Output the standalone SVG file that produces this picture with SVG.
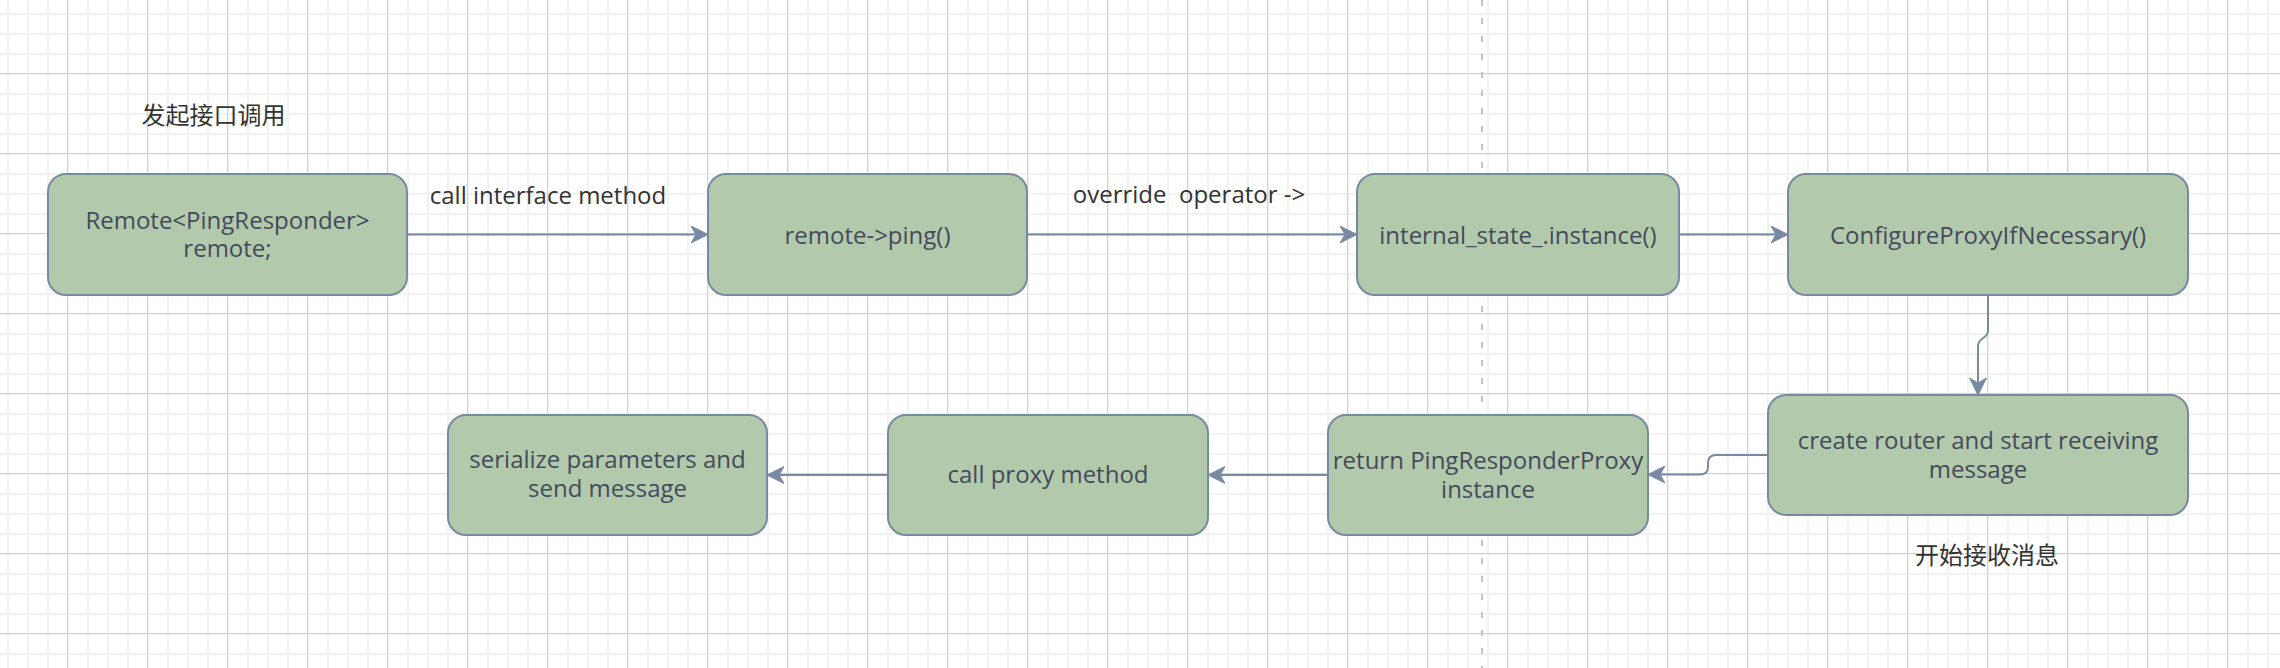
<svg xmlns="http://www.w3.org/2000/svg" width="2280" height="668" viewBox="0 0 2280 668">
  <defs>
    <style>
      .node rect { fill: #B2C9AB; stroke: #788AA3; stroke-width: 2; }
      .nt { font-family: "Open Sans", "Liberation Sans", sans-serif; font-size: 24px; fill: #46495D; text-anchor: middle; }
      .lbl { font-family: "Open Sans", "Liberation Sans", sans-serif; font-size: 24px; fill: #333333; text-anchor: middle; }
      .cjk { font-family: "Noto Sans CJK SC", sans-serif; font-size: 24px; fill: #333333; text-anchor: middle; }
      .edge { fill: none; stroke: #788AA3; stroke-width: 2; marker-end: url(#arrow); }
    </style>
    <pattern id="minor" width="20" height="20" patternUnits="userSpaceOnUse" x="7" y="13">
      <path d="M1 0V20M0 1H20" stroke="#f2f2f2" stroke-width="2" fill="none"/>
    </pattern>
    <pattern id="major" width="80" height="80" patternUnits="userSpaceOnUse" x="67" y="73">
      <path d="M0.5 0V80M0 0.5H80" stroke="#d2d2d2" stroke-width="1" fill="none"/>
    </pattern>
    <marker id="arrow" markerUnits="userSpaceOnUse" markerWidth="18" markerHeight="18" viewBox="0 0 18 18" refX="5" refY="9" orient="auto">
      <path d="M0,0.5 L17,9 L0,17.5 L5,9 Z" fill="#788AA3" stroke="#788AA3" stroke-width="1" stroke-linejoin="miter"/>
    </marker>
  </defs>

  <rect width="2280" height="668" fill="#ffffff"/>
  <rect width="2280" height="668" fill="url(#minor)"/>
  <rect width="2280" height="668" fill="url(#major)"/>

  <line x1="1482" y1="0" x2="1482" y2="668" stroke="#c4c4c4" stroke-width="2" stroke-dasharray="6 12"/>

  <g id="labels">
    <text class="cjk" x="213.5" y="124">发起接口调用</text>
    <text class="lbl" x="548" y="204">call interface method</text>
    <text class="lbl" x="1189" y="203" xml:space="preserve">override  operator -&gt;</text>
    <text class="cjk" x="1987" y="564">开始接收消息</text>
  </g>

  <g id="connectors">
    <path class="edge" d="M407,234.5 H696"/>
    <path class="edge" d="M1027,234.5 H1345"/>
    <path class="edge" d="M1679,234.5 H1776"/>
    <path class="edge" d="M1988,295 V331 C1988,339 1978,337 1978,346 V383"/>
    <path class="edge" d="M1768,455 H1716 Q1708,455 1708,463 V467 Q1708,474.5 1700,474.5 H1660"/>
    <path class="edge" d="M1328,475 H1220"/>
    <path class="edge" d="M888,475 H779"/>
  </g>

  <g id="node-remote" class="node">
    <rect x="48" y="174" width="359" height="121" rx="18" ry="18"/>
    <text class="nt" x="227.5" y="228.5">Remote&lt;PingResponder&gt;</text>
    <text class="nt" x="227.5" y="257">remote;</text>
  </g>
  <g id="node-ping" class="node">
    <rect x="708" y="174" width="319" height="121" rx="18" ry="18"/>
    <text class="nt" x="867.5" y="243.5">remote-&gt;ping()</text>
  </g>
  <g id="node-instance" class="node">
    <rect x="1357" y="174" width="322" height="121" rx="18" ry="18"/>
    <text class="nt" x="1518" y="243.5">internal_state_.instance()</text>
  </g>
  <g id="node-configure" class="node">
    <rect x="1788" y="174" width="400" height="121" rx="18" ry="18"/>
    <text class="nt" x="1988" y="243.5">ConfigureProxyIfNecessary()</text>
  </g>
  <g id="node-router" class="node">
    <rect x="1768" y="395" width="420" height="120" rx="18" ry="18"/>
    <text class="nt" x="1978" y="449">create router and start receiving</text>
    <text class="nt" x="1978" y="478">message</text>
  </g>
  <g id="node-return" class="node">
    <rect x="1328" y="415" width="320" height="120" rx="18" ry="18"/>
    <text class="nt" x="1488" y="469">return PingResponderProxy</text>
    <text class="nt" x="1488" y="498">instance</text>
  </g>
  <g id="node-callproxy" class="node">
    <rect x="888" y="415" width="320" height="120" rx="18" ry="18"/>
    <text class="nt" x="1048" y="483">call proxy method</text>
  </g>
  <g id="node-serialize" class="node">
    <rect x="448" y="415" width="319" height="120" rx="18" ry="18"/>
    <text class="nt" x="607.5" y="468">serialize parameters and</text>
    <text class="nt" x="607.5" y="497">send message</text>
  </g>
</svg>
